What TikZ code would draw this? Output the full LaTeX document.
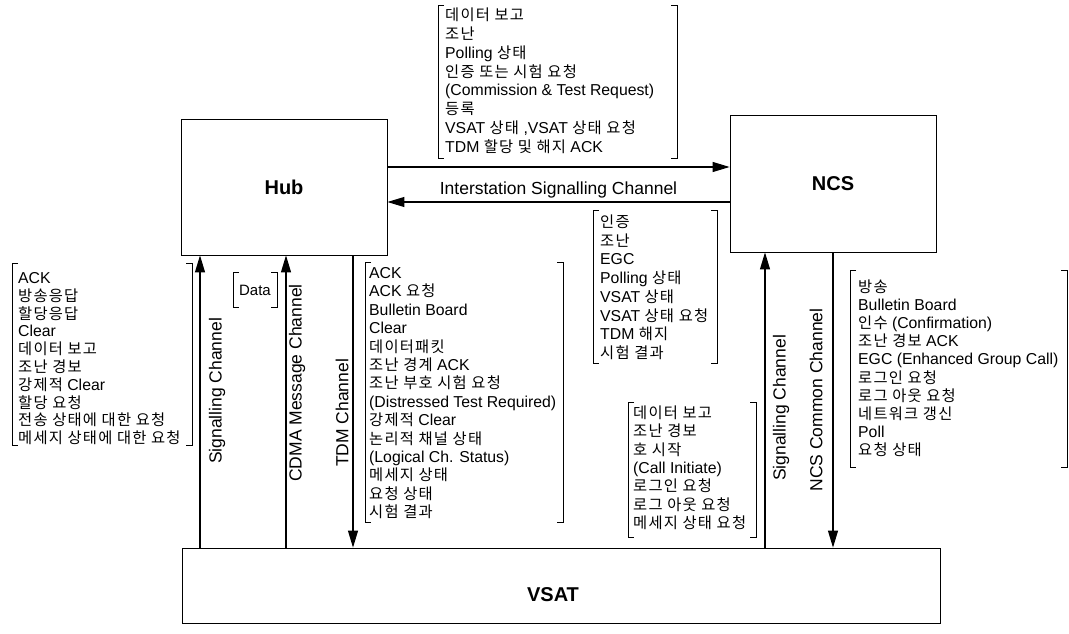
\documentclass[tikz,border=0pt]{standalone}
\usepackage{fontspec}
\setmainfont{Liberation Sans}
\newfontfamily\kr{Noto Sans CJK KR}[Scale=0.97,LetterSpace=8]
\usetikzlibrary{arrows.meta}
\newcommand\K[1]{{\kr #1}}
\newcommand\rw[1]{\hbox{#1}}
\newcommand\mylist[2]{\vtop{\baselineskip=#1pt\lineskiplimit=-30pt\lineskip=0pt #2}}
\newcommand\BrkPair[4]{%
  \draw[brkline] (#1+6,#3) -- (#1,#3) -- (#1,#4) -- (#1+6,#4);
  \draw[brkline] (#2-6,#3) -- (#2,#3) -- (#2,#4) -- (#2-6,#4);}
\begin{document}
\begin{tikzpicture}[x=1pt,y=-1pt,
  blk/.style={draw, line width=0.8pt, inner sep=0pt, font=\fontsize{20}{24}\selectfont\bfseries},
  ttl/.style={inner sep=0pt, font=\fontsize{20}{24}\selectfont\bfseries},
  arr/.style={line width=1.1pt, -{Triangle[length=17pt,width=10pt]}},
  brkline/.style={line width=0.9pt},
  lbl/.style={inner sep=0pt, font=\fontsize{17.5}{20}\selectfont},
  lst/.style={anchor=base west, inner sep=0pt, font=\fontsize{15.8}{18.5}\selectfont}]
\fill[white] (0,0) rectangle (1069,634);
\useasboundingbox (0,0) rectangle (1069,634);

% main boxes
\node[blk, minimum width=206pt, minimum height=136pt] (hub) at (284,187) {Hub};
\node[blk, minimum width=206pt, minimum height=137pt] (ncs) at (833,183.5) {NCS};
\node[blk, minimum width=758pt, minimum height=75pt] (vsat) at (561,585.5) {};
\node[ttl] (vsatlabel) at (553,595) {VSAT};

% horizontal channels
\coordinate (p1) at ([yshift=20pt]hub.east);
\draw[arr] (p1) -- (p1 -| ncs.west);
\coordinate (p2) at ([yshift=-18.5pt]ncs.west);
\draw[arr] (p2) -- (p2 -| hub.east) node[midway, above=3pt, lbl] (isc) {Interstation Signalling Channel};

% vertical channels
\coordinate (xs1) at (200,0);
\coordinate (xc) at (286,0);
\coordinate (xt) at (353,0);
\coordinate (xs2) at (765,0);
\coordinate (xn) at (833,0);
\draw[arr] (vsat.north -| xs1) -- (hub.south -| xs1);
\draw[arr] (vsat.north -| xc) -- (hub.south -| xc);
\draw[arr] (hub.south -| xt) -- (vsat.north -| xt);
\draw[arr] (vsat.north -| xs2) -- (ncs.south -| xs2);
\draw[arr] (ncs.south -| xn) -- (vsat.north -| xn);

\node[lbl, rotate=90] (lsig) at (217,391) {Signalling Channel};
\node[lbl, rotate=90] (cdma) at (297,383) {CDMA Message Channel};
\node[lbl, rotate=90] (tdm) at (342,413) {TDM Channel};
\node[lbl, rotate=90] (rsig) at (781,408) {Signalling Channel};
\node[lbl, rotate=90] (ncsc) at (816,400) {NCS Common Channel};

% Data
\node[inner sep=0pt, font=\fontsize{15}{18}\selectfont] (data) at (255,290) {Data};
\BrkPair{233}{277}{272}{307}

% top list
\BrkPair{438}{677}{5}{158}
\node[lst] (tlist) at (445,20.5) {\mylist{18.86}{%
 \rw{\K{데이터 보고}}
 \rw{\K{조난}}
 \rw{Polling \K{상태}}
 \rw{\K{인증 또는 시험 요청}}
 \rw{(Commission \& Test Request)}
 \rw{\K{등록}}
 \rw{VSAT \K{상태} ,VSAT \K{상태 요청}}
 \rw{TDM \K{할당 및 해지} ACK}}};

% NCS -> Hub list
\BrkPair{593}{717}{210}{363}
\node[lst] (ilist) at (600,227.5) {\mylist{18.7}{%
 \rw{\K{인증}}
 \rw{\K{조난}}
 \rw{EGC}
 \rw{Polling \K{상태}}
 \rw{VSAT \K{상태}}
 \rw{VSAT \K{상태 요청}}
 \rw{TDM \K{해지}}
 \rw{\K{시험 결과}}}};

% left list
\BrkPair{12}{192}{263}{445}
\node[lst] (llist) at (18,283.5) {\mylist{17.8}{%
 \rw{ACK}
 \rw{\K{방송응답}}
 \rw{\K{할당응답}}
 \rw{Clear}
 \rw{\K{데이터 보고}}
 \rw{\K{조난 경보}}
 \rw{\K{강제적} Clear}
 \rw{\K{할당 요청}}
 \rw{\K{전송 상태에 대한 요청}}
 \rw{\K{메세지 상태에 대한 요청}}}};

% TDM list
\BrkPair{365}{563}{262}{522}
\node[lst] (tdmlist) at (369,278.5) {\mylist{18.4}{%
 \rw{ACK}
 \rw{ACK \K{요청}}
 \rw{Bulletin Board}
 \rw{Clear}
 \rw{\K{데이터패킷}}
 \rw{\K{조난 경계} ACK}
 \rw{\K{조난 부호 시험 요청}}
 \rw{(Distressed Test Required)}
 \rw{\K{강제적} Clear}
 \rw{\K{논리적 채널 상태}}
 \rw{(Logical Ch. Status)}
 \rw{\K{메세지 상태}}
 \rw{\K{요청 상태}}
 \rw{\K{시험 결과}}}};

% bottom middle list
\BrkPair{628}{756}{402}{537}
\node[lst] (blist) at (633,418.5) {\mylist{18.3}{%
 \rw{\K{데이터 보고}}
 \rw{\K{조난 경보}}
 \rw{\K{호 시작}}
 \rw{(Call Initiate)}
 \rw{\K{로그인 요청}}
 \rw{\K{로그 아웃 요청}}
 \rw{\K{메세지 상태 요청}}}};

% right list
\BrkPair{850}{1067}{270}{467}
\node[lst] (rlist) at (858,292.5) {\mylist{18.1}{%
 \rw{\K{방송}}
 \rw{Bulletin Board}
 \rw{\K{인수} (Confirmation)}
 \rw{\K{조난 경보} ACK}
 \rw{EGC (Enhanced Group Call)}
 \rw{\K{로그인 요청}}
 \rw{\K{로그 아웃 요청}}
 \rw{\K{네트워크 갱신}}
 \rw{Poll}
 \rw{\K{요청 상태}}}};
\end{tikzpicture}
\end{document}
